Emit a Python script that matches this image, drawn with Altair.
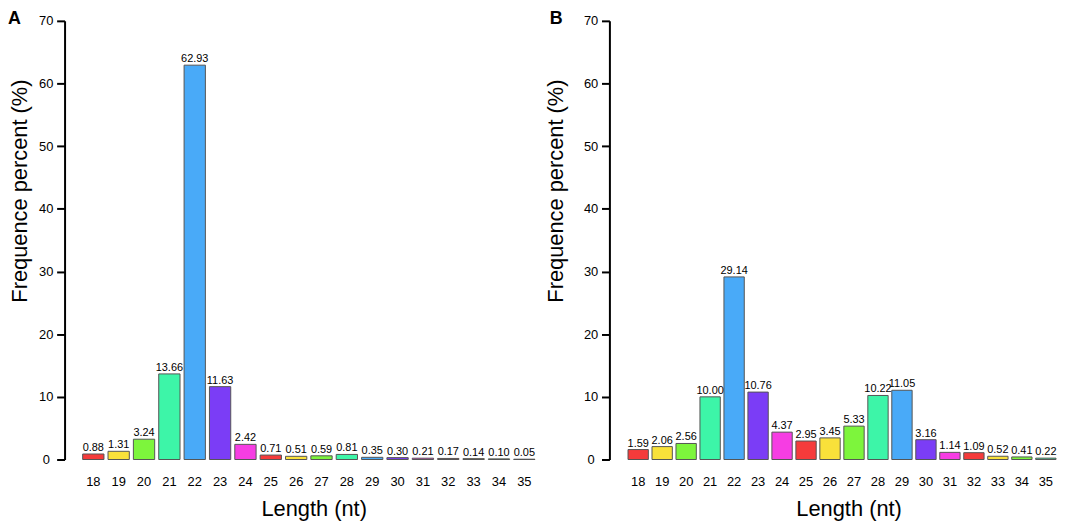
import altair as alt
import pandas as pd

lengths = list(range(18, 36))
freq_a = [0.88, 1.31, 3.24, 13.66, 62.93, 11.63, 2.42, 0.71, 0.51, 0.59, 0.81,
          0.35, 0.30, 0.21, 0.17, 0.14, 0.10, 0.05]
freq_b = [1.59, 2.06, 2.56, 10.00, 29.14, 10.76, 4.37, 2.95, 3.45, 5.33, 10.22,
          11.05, 3.16, 1.14, 1.09, 0.52, 0.41, 0.22]
palette = ["#F53B3B", "#F9E13A", "#7DF53C", "#3DF5A8", "#49AAF8", "#7B3DF6", "#F63DE3"]
colors = [palette[i % 7] for i in range(len(lengths))]

FONT = "Liberation Sans"


def panel(values, letter, width, pad_inner, pad_outer, title_x, xtitle_x, letter_x):
    df = pd.DataFrame({"len": lengths, "freq": values, "col": colors})
    x = alt.X("len:O", title="Length (nt)",
              scale=alt.Scale(paddingInner=pad_inner, paddingOuter=pad_outer, align=1),
              axis=alt.Axis(labelAngle=0, domain=False, ticks=False, tickSize=0,
                            labelPadding=16, labelFontSize=13, labelColor="black",
                            titleFontSize=22, titleFontWeight="normal", titleColor="black",
                            titlePadding=10, titleX=xtitle_x))
    y = alt.Y("freq:Q", title="Frequence percent (%)",
              scale=alt.Scale(domain=[0, 70], nice=False, zero=True),
              axis=alt.Axis(values=[0, 10, 20, 30, 40, 50, 60, 70], grid=False,
                            domainColor="black", domainWidth=2, tickColor="black",
                            tickWidth=2, tickSize=8, labelAlign="center", labelPadding=11,
                            labelFontSize=13, labelColor="black", titleFontSize=22,
                            titleFontWeight="normal", titleColor="black",
                            titleX=title_x, titleY=171, titleBaseline="alphabetic",
                            titleAlign="center"))
    base = alt.Chart(df)
    bars = base.mark_bar(stroke="#555555", strokeWidth=1).encode(
        x=x, y=y, fill=alt.Fill("col:N", scale=None))
    text = base.mark_text(baseline="alphabetic", dy=-3, fontSize=11, color="black").encode(
        x="len:O", y="freq:Q", text=alt.Text("freq:Q", format=".2f"))
    lab = alt.Chart(pd.DataFrame({"letter": [letter]})).mark_text(
        align="left", baseline="top", fontSize=18, fontWeight="bold", color="black"
    ).encode(x=alt.value(letter_x), y=alt.value(-11), text="letter:N")
    return alt.layer(bars, text, lab).properties(width=width, height=442)


chart_a = panel(freq_a, "A", 474, 0.16, 0.357, -38, 251, -57)
chart_b = panel(freq_b, "B", 450, 0.152, 0.388, -47, 241, -60)

chart = alt.hconcat(chart_a, chart_b, spacing=9).properties(
    padding={"left": 0, "top": 0, "right": 0, "bottom": 0}
).configure(font=FONT).configure_view(stroke=None)

chart.save("out.html", embed_options={"renderer": "svg", "actions": False})
